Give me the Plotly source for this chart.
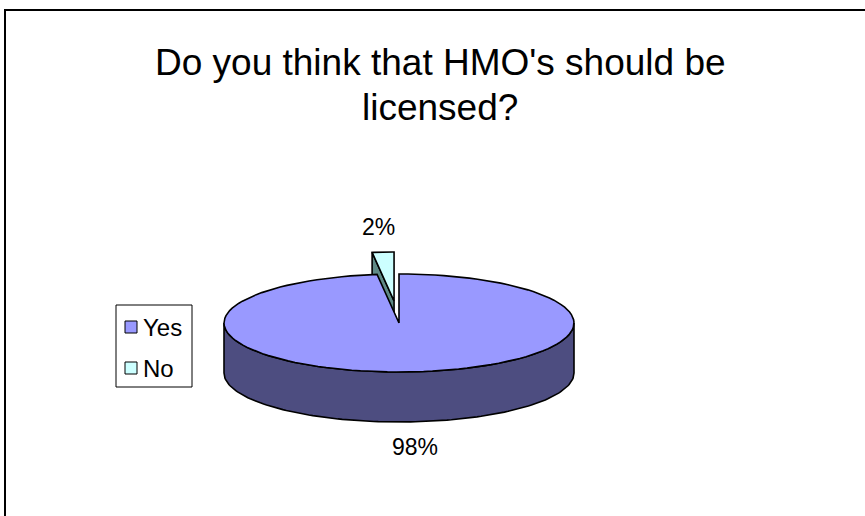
import numpy as np
import plotly.graph_objects as go

# Survey answers
categories = ["Yes", "No"]
values = [98, 2]

# Slice styling
top_colors = ["#9999FF", "#CCFFFF"]
side_colors = ["#4D4D80", "#5F8A86"]
explode = [0.0, 0.45]

title_lines = ["Do you think that HMO's should be", "licensed?"]

W, H = 865, 516
FONT = "Liberation Sans, Arial, sans-serif"

# 3D pie geometry (pixel space)
cx, cy = 399, 323
rx, ry = 175, 49
depth = 50


def rim(theta_deg, ox=0.0, oy=0.0, dz=0.0):
    t = np.radians(theta_deg)
    return cx + ox + rx * np.sin(t), cy + oy - ry * np.cos(t) + dz


def arc(a, b, ox, oy, dz=0.0, n=120):
    th = np.linspace(a, b, n)
    xs, ys = rim(th, ox, oy, dz)
    return list(xs), list(ys)


total = float(sum(values))
fracs = [v / total for v in values]

# slice angles: start at 12 o'clock, clockwise
slices = []
start = 0.0
for i, f in enumerate(fracs):
    end = start + 360.0 * f
    mid = (start + end) / 2.0
    ox = explode[i] * rx * np.sin(np.radians(mid))
    oy = -explode[i] * ry * np.cos(np.radians(mid))
    slices.append(dict(i=i, s=start, e=end, mid=mid, ox=ox, oy=oy))
    start = end

fig = go.Figure()


def poly(xs, ys, color):
    fig.add_trace(go.Scatter(
        x=xs + [xs[0]], y=ys + [ys[0]], mode="lines", fill="toself",
        fillcolor=color, line=dict(color="black", width=1.6),
        hoverinfo="skip", showlegend=False))


# back slices first
for sl in sorted(slices, key=lambda d: -np.cos(np.radians(d["mid"]))):
    i, s, e, ox, oy = sl["i"], sl["s"], sl["e"], sl["ox"], sl["oy"]
    ccx, ccy = cx + ox, cy + oy
    # radial side faces
    if np.sin(np.radians(s)) < -1e-9:
        px, py = rim(s, ox, oy)
        poly([ccx, px, px, ccx], [ccy, py, py + depth, ccy + depth], side_colors[i])
    if np.sin(np.radians(e)) > 1e-9:
        px, py = rim(e, ox, oy)
        poly([ccx, px, px, ccx], [ccy, py, py + depth, ccy + depth], side_colors[i])
    # outer curved face (front half only)
    a, b = max(s, 90.0), min(e, 270.0)
    if b > a:
        tx, ty = arc(a, b, ox, oy)
        bx, by = arc(b, a, ox, oy, depth)
        poly(tx + bx, ty + by, side_colors[i])
    # top face
    tx, ty = arc(s, e, ox, oy)
    poly([ccx] + tx, [ccy] + ty, top_colors[i])

# percentage labels
for sl in slices:
    i, mid = sl["i"], sl["mid"]
    c = np.cos(np.radians(mid))
    dz = depth if c < 0 else 0.0
    px, py = rim(mid, sl["ox"], sl["oy"], dz)
    lx = px + 80 * np.sin(np.radians(mid))
    ly = py - 25 * np.sign(c)
    fig.add_annotation(x=lx, y=ly, text=f"{round(fracs[i] * 100)}%",
                       showarrow=False, xanchor="center", yanchor="middle",
                       font=dict(family=FONT, size=23, color="black"))

# title
for k, line in enumerate(title_lines):
    fig.add_annotation(x=440, y=62 + 45 * k, text=line, showarrow=False,
                       xanchor="center", yanchor="middle",
                       font=dict(family=FONT, size=37, color="black"))

# legend
shapes = [
    dict(type="rect", x0=5, y0=10, x1=W + 10, y1=H + 10,
         line=dict(color="black", width=2), fillcolor="rgba(0,0,0,0)"),
    dict(type="rect", x0=116, y0=305, x1=192, y1=387,
         line=dict(color="black", width=1), fillcolor="white"),
]
for k, name in enumerate(categories):
    yc = 327 + 41 * k
    shapes.append(dict(type="rect", x0=125, x1=137, y0=yc - 6, y1=yc + 6,
                       line=dict(color="black", width=1), fillcolor=top_colors[k]))
    fig.add_annotation(x=141, y=yc, text=name, showarrow=False,
                       xanchor="left", yanchor="middle",
                       font=dict(family=FONT, size=24, color="black"))

fig.update_layout(
    width=W, height=H, margin=dict(l=0, r=0, t=0, b=0),
    paper_bgcolor="white", plot_bgcolor="white", showlegend=False,
    shapes=shapes,
    xaxis=dict(range=[0, W], visible=False, fixedrange=True),
    yaxis=dict(range=[H, 0], visible=False, fixedrange=True),
)

fig.write_html("out.html")
